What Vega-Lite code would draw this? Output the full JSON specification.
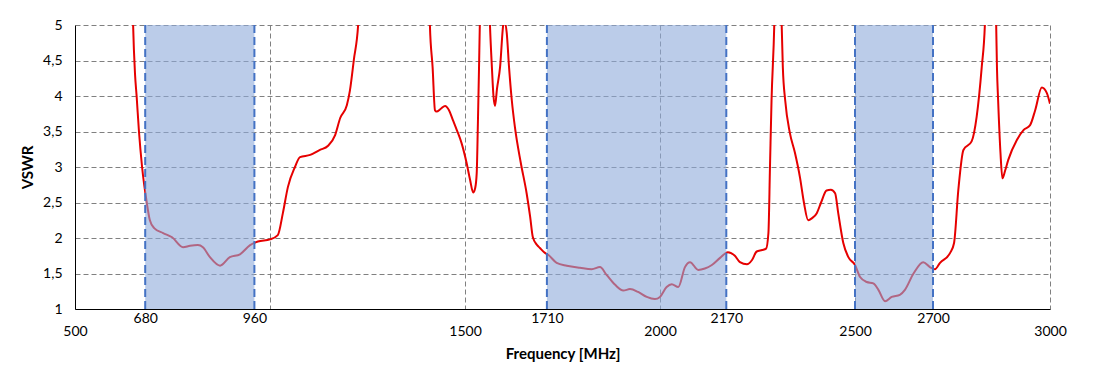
{
  "$schema": "https://vega.github.io/schema/vega-lite/v6.json",
  "width": 975,
  "height": 284,
  "autosize": "none",
  "padding": {"left": 75, "top": 25, "right": 60, "bottom": 79},
  "config": {"font": "Lato", "view": {"stroke": null}, "background": "#ffffff"},
  "datasets": {
    "curve": [
      {"f": 647, "v": 5.5}, {"f": 649, "v": 5.0}, {"f": 654, "v": 4.3}, {"f": 658, "v": 4.0}, {"f": 664, "v": 3.5},
      {"f": 672, "v": 3.0}, {"f": 684, "v": 2.5}, {"f": 692, "v": 2.25}, {"f": 703, "v": 2.14}, {"f": 726, "v": 2.07},
      {"f": 749, "v": 2.01}, {"f": 777, "v": 1.87}, {"f": 795, "v": 1.89}, {"f": 815, "v": 1.9}, {"f": 828, "v": 1.87},
      {"f": 846, "v": 1.73}, {"f": 872, "v": 1.61}, {"f": 897, "v": 1.73}, {"f": 923, "v": 1.77}, {"f": 949, "v": 1.9},
      {"f": 969, "v": 1.95}, {"f": 1000, "v": 1.98}, {"f": 1020, "v": 2.04}, {"f": 1033, "v": 2.35}, {"f": 1046, "v": 2.72},
      {"f": 1064, "v": 3.0}, {"f": 1077, "v": 3.14}, {"f": 1103, "v": 3.17}, {"f": 1128, "v": 3.24}, {"f": 1149, "v": 3.3},
      {"f": 1167, "v": 3.45}, {"f": 1180, "v": 3.69}, {"f": 1197, "v": 3.87}, {"f": 1205, "v": 4.08}, {"f": 1215, "v": 4.51},
      {"f": 1226, "v": 5.0}, {"f": 1231, "v": 5.5},
      {"f": 1409, "v": 5.5}, {"f": 1410, "v": 5.0}, {"f": 1417, "v": 4.4}, {"f": 1423, "v": 3.8}, {"f": 1427, "v": 3.78},
      {"f": 1438, "v": 3.82}, {"f": 1449, "v": 3.86}, {"f": 1459, "v": 3.8}, {"f": 1469, "v": 3.66}, {"f": 1479, "v": 3.52},
      {"f": 1491, "v": 3.34}, {"f": 1504, "v": 3.06}, {"f": 1513, "v": 2.82}, {"f": 1521, "v": 2.64}, {"f": 1526, "v": 2.7},
      {"f": 1530, "v": 2.91}, {"f": 1533, "v": 3.6}, {"f": 1536, "v": 4.41}, {"f": 1538, "v": 5.0}, {"f": 1541, "v": 5.5},
      {"f": 1561, "v": 5.5}, {"f": 1564, "v": 5.0}, {"f": 1569, "v": 4.4}, {"f": 1573, "v": 4.0}, {"f": 1577, "v": 3.86},
      {"f": 1582, "v": 4.1}, {"f": 1590, "v": 4.41}, {"f": 1598, "v": 5.0}, {"f": 1601, "v": 5.05}, {"f": 1607, "v": 4.89},
      {"f": 1613, "v": 4.4}, {"f": 1620, "v": 3.94}, {"f": 1628, "v": 3.56}, {"f": 1643, "v": 3.06}, {"f": 1658, "v": 2.63},
      {"f": 1667, "v": 2.3}, {"f": 1674, "v": 2.01}, {"f": 1685, "v": 1.9}, {"f": 1692, "v": 1.86}, {"f": 1705, "v": 1.79},
      {"f": 1714, "v": 1.76}, {"f": 1735, "v": 1.65}, {"f": 1761, "v": 1.61}, {"f": 1795, "v": 1.58}, {"f": 1825, "v": 1.56},
      {"f": 1846, "v": 1.59}, {"f": 1863, "v": 1.48}, {"f": 1885, "v": 1.34}, {"f": 1906, "v": 1.26}, {"f": 1923, "v": 1.28},
      {"f": 1944, "v": 1.24}, {"f": 1966, "v": 1.17}, {"f": 1987, "v": 1.14}, {"f": 2000, "v": 1.17}, {"f": 2017, "v": 1.31},
      {"f": 2030, "v": 1.35}, {"f": 2047, "v": 1.31}, {"f": 2064, "v": 1.59}, {"f": 2077, "v": 1.66}, {"f": 2098, "v": 1.55},
      {"f": 2115, "v": 1.57}, {"f": 2133, "v": 1.62}, {"f": 2154, "v": 1.72}, {"f": 2174, "v": 1.8}, {"f": 2192, "v": 1.75},
      {"f": 2205, "v": 1.66}, {"f": 2223, "v": 1.63}, {"f": 2236, "v": 1.69}, {"f": 2248, "v": 1.81}, {"f": 2262, "v": 1.83},
      {"f": 2272, "v": 1.85}, {"f": 2278, "v": 2.07}, {"f": 2282, "v": 3.0}, {"f": 2286, "v": 3.94}, {"f": 2293, "v": 5.0},
      {"f": 2295, "v": 5.5}, {"f": 2310, "v": 5.5}, {"f": 2312, "v": 5.0}, {"f": 2315, "v": 4.4}, {"f": 2321, "v": 3.94},
      {"f": 2333, "v": 3.48}, {"f": 2346, "v": 3.2}, {"f": 2359, "v": 2.85}, {"f": 2369, "v": 2.5}, {"f": 2380, "v": 2.25},
      {"f": 2390, "v": 2.28}, {"f": 2402, "v": 2.35}, {"f": 2413, "v": 2.5}, {"f": 2427, "v": 2.67}, {"f": 2438, "v": 2.68},
      {"f": 2449, "v": 2.63}, {"f": 2457, "v": 2.35}, {"f": 2470, "v": 1.93}, {"f": 2483, "v": 1.73}, {"f": 2500, "v": 1.62},
      {"f": 2513, "v": 1.45}, {"f": 2530, "v": 1.38}, {"f": 2547, "v": 1.36}, {"f": 2560, "v": 1.27}, {"f": 2577, "v": 1.11},
      {"f": 2594, "v": 1.17}, {"f": 2615, "v": 1.2}, {"f": 2628, "v": 1.27}, {"f": 2650, "v": 1.5}, {"f": 2675, "v": 1.66},
      {"f": 2692, "v": 1.59}, {"f": 2705, "v": 1.56}, {"f": 2718, "v": 1.65}, {"f": 2744, "v": 1.79}, {"f": 2754, "v": 1.93},
      {"f": 2765, "v": 2.68}, {"f": 2778, "v": 3.24}, {"f": 2799, "v": 3.36}, {"f": 2812, "v": 3.71}, {"f": 2825, "v": 4.41},
      {"f": 2833, "v": 5.0}, {"f": 2836, "v": 5.5}, {"f": 2859, "v": 5.5}, {"f": 2862, "v": 5.0}, {"f": 2864, "v": 4.4},
      {"f": 2867, "v": 3.94}, {"f": 2873, "v": 3.2}, {"f": 2878, "v": 2.84}, {"f": 2885, "v": 2.95}, {"f": 2893, "v": 3.1},
      {"f": 2915, "v": 3.38}, {"f": 2932, "v": 3.52}, {"f": 2949, "v": 3.59}, {"f": 2962, "v": 3.8}, {"f": 2979, "v": 4.12},
      {"f": 2992, "v": 4.04}, {"f": 3000, "v": 3.89}
    ],
    "bands": [
      {"start": 680, "end": 960},
      {"start": 1710, "end": 2170},
      {"start": 2500, "end": 2700}
    ]
  },
  "layer": [
    {
      "data": {"name": "curve"},
      "mark": {"type": "line", "color": "#e60000", "strokeWidth": 2, "interpolate": "monotone", "clip": true},
      "encoding": {
        "x": {
          "field": "f", "type": "quantitative",
          "scale": {"domain": [500, 3000], "nice": false, "zero": false},
          "axis": {
            "values": [500, 680, 960, 1000, 1500, 1710, 2000, 2170, 2500, 2700, 3000],
            "format": "d",
            "labelExpr": "indexof([500, 1500, 2000, 2500, 3000], datum.value) >= 0 ? ['', datum.label] : (datum.value == 1000 ? '' : datum.label)",
            "labelLineHeight": 13,
            "title": "Frequency [MHz]",
            "titleFontSize": 15, "titleFontWeight": "bold", "titleColor": "#000000", "titlePadding": 8,
            "ticks": false, "labelPadding": 2, "labelFontSize": 14, "labelColor": "#000000",
            "labelOverlap": false, "labelFlush": false, "labelBound": false,
            "domainColor": "#000000", "domainWidth": 1,
            "grid": true, "gridColor": "#808080", "gridDash": [5, 3], "gridWidth": 1,
            "gridOpacity": {"condition": {"test": "indexof([1000, 1500, 2000, 2500, 3000], datum.value) >= 0", "value": 1}, "value": 0}
          }
        },
        "y": {
          "field": "v", "type": "quantitative",
          "scale": {"domain": [1, 5], "nice": false, "zero": false},
          "axis": {
            "values": [1, 1.5, 2, 2.5, 3, 3.5, 4, 4.5, 5],
            "labelExpr": "replace(toString(datum.value), '.', ',')",
            "title": "VSWR", "titleFontSize": 15, "titleFontWeight": "bold", "titleColor": "#000000", "titlePadding": 7,
            "ticks": false, "labelPadding": 13, "labelFontSize": 14, "labelColor": "#000000",
            "domainColor": "#000000", "domainWidth": 1,
            "grid": true, "gridColor": "#808080", "gridDash": [5, 3], "gridWidth": 1
          }
        }
      }
    },
    {
      "data": {"name": "bands"},
      "mark": {"type": "rect", "fill": "#8eaadb", "opacity": 0.6},
      "encoding": {
        "x": {"field": "start", "type": "quantitative"},
        "x2": {"field": "end"}
      }
    },
    {
      "data": {"name": "bands"},
      "mark": {"type": "rule", "color": "#4472c4", "strokeWidth": 2, "strokeDash": [8, 4]},
      "encoding": {"x": {"field": "start", "type": "quantitative"}}
    },
    {
      "data": {"name": "bands"},
      "mark": {"type": "rule", "color": "#4472c4", "strokeWidth": 2, "strokeDash": [8, 4]},
      "encoding": {"x": {"field": "end", "type": "quantitative"}}
    }
  ]
}
